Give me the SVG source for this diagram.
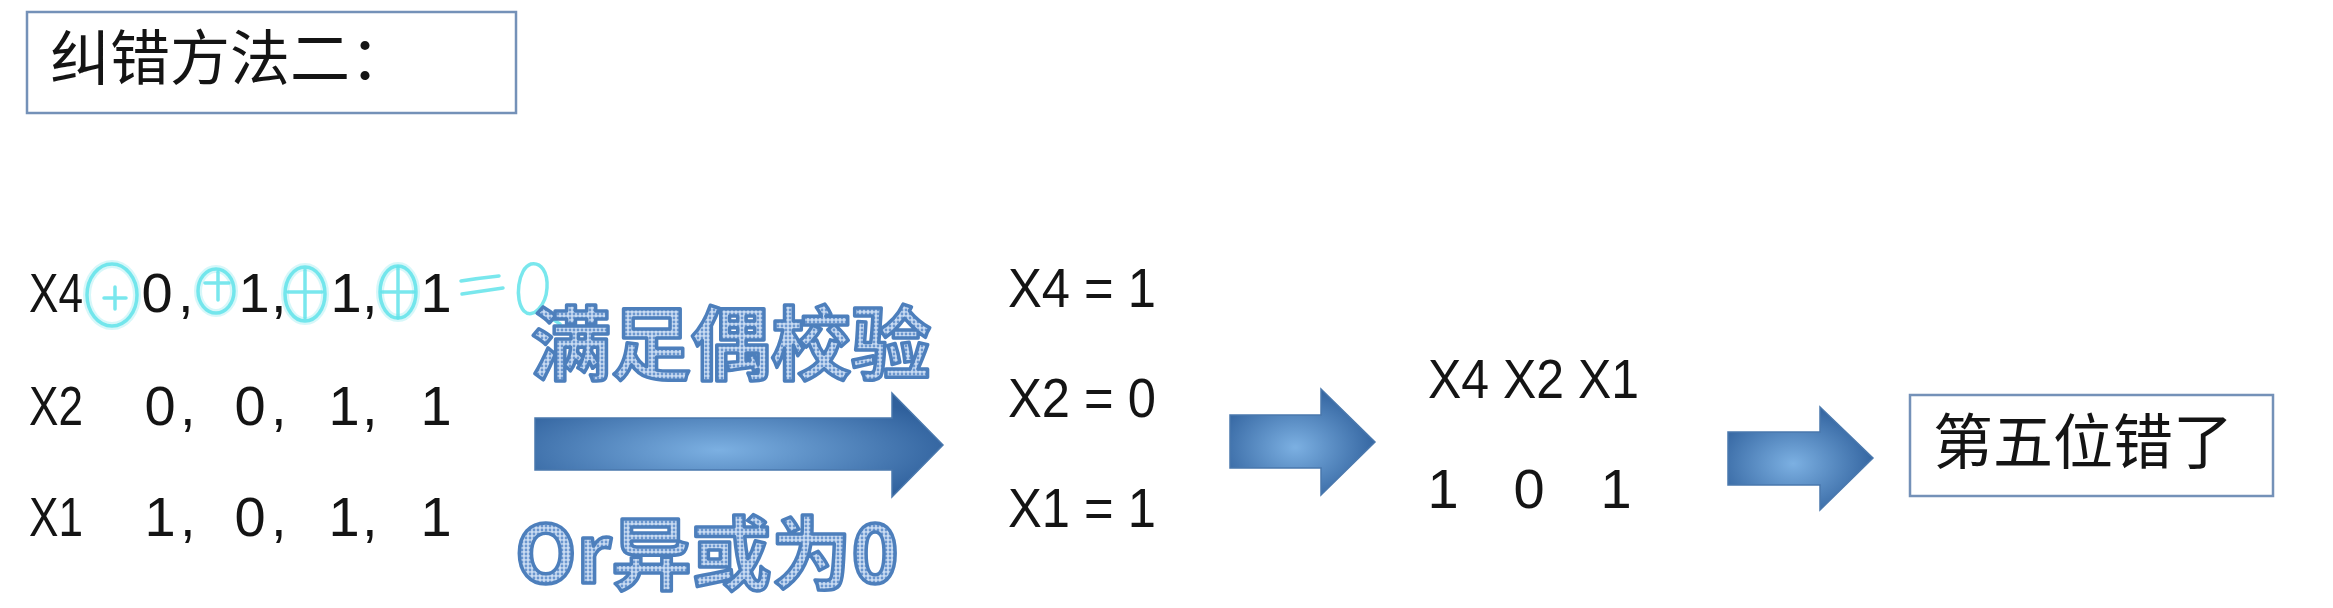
<svg xmlns="http://www.w3.org/2000/svg" width="2333" height="608" viewBox="0 0 2333 608">
<style>
.t{font-family:"Liberation Sans",Arial,sans-serif;font-size:56px;fill:#141414}
.cn{font-family:"Noto Sans CJK SC","Noto Sans",sans-serif;font-size:60px;fill:#141414}
.box{fill:#ffffff;stroke:#7491b8;stroke-width:2.5}
.big{font-family:"Noto Sans CJK SC","Noto Sans",sans-serif;font-weight:bold;font-size:80px;fill:url(#dots);stroke:#4d7fbc;stroke-width:3.5;stroke-linejoin:round}
.arrow{fill:url(#ag);stroke:#4a78ad;stroke-width:1.5}
.ink{fill:none;stroke:#62e3ea;stroke-width:3.5;stroke-linecap:round;stroke-linejoin:round;opacity:0.85}
.glow{fill:none;stroke:#bdf3f6;stroke-width:8;stroke-linecap:round;stroke-linejoin:round;opacity:0.6}
</style>
<defs>
<pattern id="dots" width="4" height="4" patternUnits="userSpaceOnUse">
<rect width="4" height="4" fill="#cadcf2"/>
<circle cx="2" cy="2" r="1.4" fill="#6a96cf"/>
</pattern>
<radialGradient id="ag" cx="0.45" cy="0.55" r="0.6">
<stop offset="0" stop-color="#7cb0e2"/>
<stop offset="1" stop-color="#2f609c"/>
</radialGradient>
</defs>
<rect width="2333" height="608" fill="#ffffff"/>

<g id="title">
<rect class="box" x="27" y="12" width="489" height="101"/>
<text class="cn" x="50" y="80">纠错方法二：</text>
</g>

<g id="rows-left">
<text class="t" x="29" y="312" textLength="54" lengthAdjust="spacingAndGlyphs">X4</text>
<text class="t" x="29" y="425" textLength="54" lengthAdjust="spacingAndGlyphs">X2</text>
<text class="t" x="29" y="536" textLength="54" lengthAdjust="spacingAndGlyphs">X1</text>
<g text-anchor="middle">
<text class="t" x="157" y="312">0</text>
<text class="t" x="254" y="312">1</text>
<text class="t" x="346" y="312">1</text>
<text class="t" x="436" y="312">1</text>
<text class="t" x="160" y="425">0</text>
<text class="t" x="250" y="425">0</text>
<text class="t" x="344" y="425">1</text>
<text class="t" x="436" y="425">1</text>
<text class="t" x="160" y="536">1</text>
<text class="t" x="250" y="536">0</text>
<text class="t" x="344" y="536">1</text>
<text class="t" x="436" y="536">1</text>
</g>
<text class="t" x="178" y="312">,</text>
<text class="t" x="271" y="312">,</text>
<text class="t" x="362" y="312">,</text>
<text class="t" x="180" y="425">,</text>
<text class="t" x="271" y="425">,</text>
<text class="t" x="362" y="425">,</text>
<text class="t" x="180" y="536">,</text>
<text class="t" x="271" y="536">,</text>
<text class="t" x="362" y="536">,</text>
</g>

<g id="handwriting">
<g class="glow">
<ellipse cx="112" cy="295" rx="25" ry="31"/>
<ellipse cx="216" cy="291" rx="18" ry="22"/>
<ellipse cx="305" cy="294" rx="20" ry="27"/>
<ellipse cx="398" cy="292" rx="18" ry="26"/>
</g>
<ellipse class="ink" cx="112" cy="295" rx="25" ry="31"/>
<path class="ink" d="M104 298 H126 M115 287 V309"/>
<ellipse class="ink" cx="216" cy="291" rx="18" ry="22"/>
<path class="ink" d="M205 283 H229 M218 272 V300"/>
<ellipse class="ink" cx="305" cy="294" rx="20" ry="27"/>
<path class="ink" d="M288 292 H322 M305 270 V318"/>
<ellipse class="ink" cx="398" cy="292" rx="18" ry="26"/>
<path class="ink" d="M382 292 H414 M398 267 V318"/>
<path class="ink" d="M461 281 Q480 278 499 276 M462 294 Q482 291 503 288"/>
<path class="ink" d="M531 264 C518 268 514 300 524 311 C533 320 546 305 547 288 C548 272 541 262 531 264 Z M540 310 Q550 318 560 324"/>
</g>

<g id="label-parity">
<text class="big" x="531" y="373">满足偶校验</text>
</g>
<g id="label-xor">
<text class="big" x="515" y="583">Or异或为0</text>
</g>

<g id="rows-mid">
<text class="t" x="1008" y="307" textLength="148" lengthAdjust="spacingAndGlyphs">X4 = 1</text>
<text class="t" x="1008" y="417" textLength="148" lengthAdjust="spacingAndGlyphs">X2 = 0</text>
<text class="t" x="1008" y="527" textLength="148" lengthAdjust="spacingAndGlyphs">X1 = 1</text>
</g>

<g id="result">
<text class="t" x="1428" y="398" textLength="211" lengthAdjust="spacingAndGlyphs">X4 X2 X1</text>
<g text-anchor="middle">
<text class="t" x="1443" y="508">1</text>
<text class="t" x="1529" y="508">0</text>
<text class="t" x="1616" y="508">1</text>
</g>
</g>

<g id="answer">
<rect class="box" x="1910" y="395" width="363" height="101"/>
<text class="cn" x="1933" y="464">第五位错了</text>
</g>

<g id="connectors">
<path class="arrow" d="M535 418 H892 V393 L943 445 L892 497 V470 H535 Z"/>
<path class="arrow" d="M1230 415 H1321 V389 L1375 442 L1321 495 V468 H1230 Z"/>
<path class="arrow" d="M1728 432 H1820 V407 L1873 458 L1820 510 V485 H1728 Z"/>
</g>
</svg>
